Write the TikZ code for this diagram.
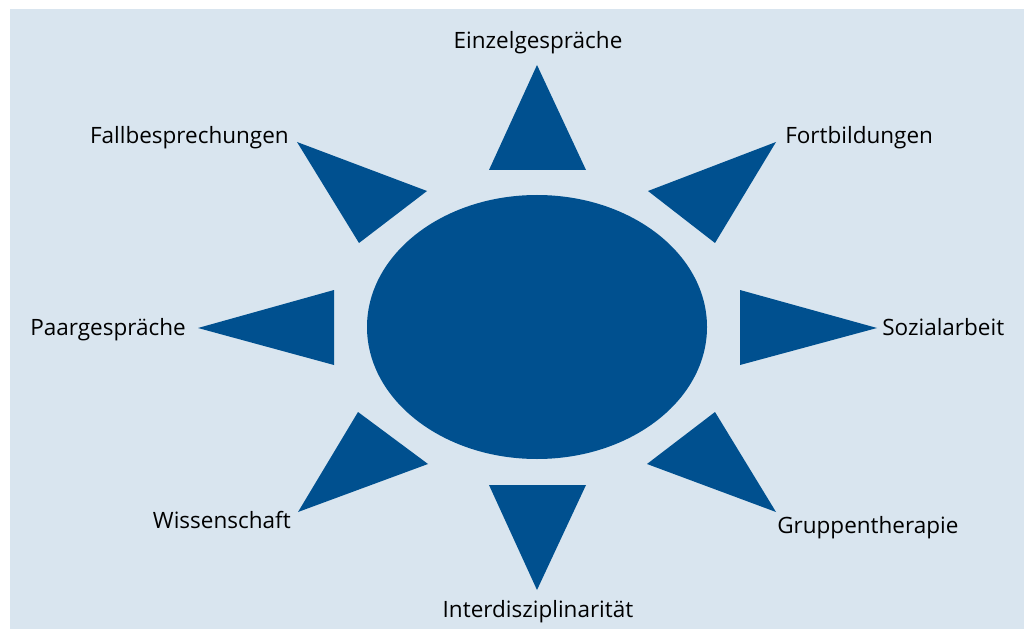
\documentclass[tikz,border=0pt]{standalone}
\usepackage{fontspec}
\setmainfont{Open Sans}
\definecolor{sunblue}{RGB}{0,80,143}
\definecolor{skyblue}{RGB}{217,229,239}

\begin{document}
\begin{tikzpicture}[
  x=0.025cm, y=-0.025cm,
  ray/.style={fill=sunblue},
  lbl/.style={font=\fontsize{16}{20}\selectfont, inner sep=0pt}
]
  \useasboundingbox (0,0) rectangle (1024,629);
  \fill[skyblue] (10,9) rectangle (1024,629);

  % sun
  \fill[ray] (537,327) ellipse [x radius=170, y radius=132];

  \fill[ray] (537,65)  -- (489,170) -- (586,170) -- cycle;
  \fill[ray] (776,142) -- (648,191) -- (715,243) -- cycle;
  \fill[ray] (877,328) -- (740,290) -- (740,365) -- cycle;
  \fill[ray] (776,512) -- (715,412) -- (647,464) -- cycle;
  \fill[ray] (537,590) -- (489,485) -- (586,485) -- cycle;
  \fill[ray] (298,512) -- (358,412) -- (428,464) -- cycle;
  \fill[ray] (198,328) -- (334,290) -- (334,365) -- cycle;
  \fill[ray] (297,142) -- (427,191) -- (359,243) -- cycle;

  % labels
  \node[lbl, anchor=base]      (ez) at (538,49)  {Einzelgespräche};
  \node[lbl, anchor=base west] (fb) at (785,144) {Fortbildungen};
  \node[lbl, anchor=base west] (sa) at (882,335) {Sozialarbeit};
  \node[lbl, anchor=base west] (gt) at (777,533) {Gruppentherapie};
  \node[lbl, anchor=base]      (id) at (538,617) {Interdisziplinarität};
  \node[lbl, anchor=base east] (ws) at (291,528) {Wissenschaft};
  \node[lbl, anchor=base east] (pg) at (186,335) {Paargespräche};
  \node[lbl, anchor=base east] (fs) at (289,144) {Fallbesprechungen};
\end{tikzpicture}
\end{document}
